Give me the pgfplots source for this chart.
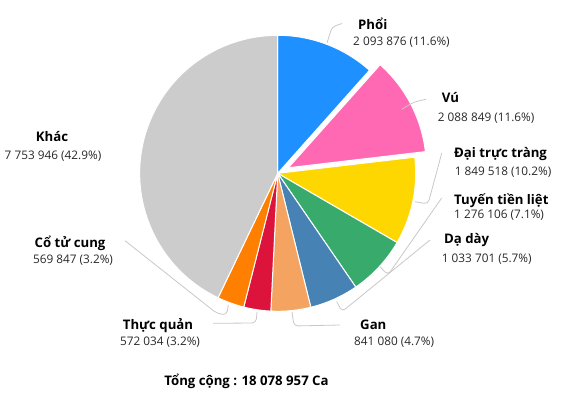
\documentclass[border=0pt]{standalone}
\usepackage{fontspec}
\setmainfont{Open Sans}
\usepackage{pgfplots}
\usepackage{pgfplotstable}
\pgfplotsset{compat=1.18}

\definecolor{slice0}{RGB}{30,144,255}
\definecolor{slice1}{RGB}{255,105,180}
\definecolor{slice2}{RGB}{255,215,0}
\definecolor{slice3}{RGB}{56,170,107}
\definecolor{slice4}{RGB}{70,130,180}
\definecolor{slice5}{RGB}{244,164,96}
\definecolor{slice6}{RGB}{220,20,60}
\definecolor{slice7}{RGB}{255,127,0}
\definecolor{slice8}{RGB}{204,204,204}
\definecolor{leader}{RGB}{200,200,200}
\definecolor{valtext}{RGB}{40,40,40}

\pgfplotstableread{
value
2093876
2088849
1849518
1276106
1033701
841080
572034
569847
7753946
}\piedata
\def\total{18078957}

\newcommand{\nm}[1]{{\fontsize{13.2}{15}\selectfont\bfseries #1}}
\newcommand{\vl}[1]{{\fontsize{11.8}{13}\selectfont\color{valtext}#1}}

\begin{document}
\begin{tikzpicture}
\begin{axis}[
  x=1pt, y=1pt,
  xmin=0, xmax=563, ymin=-393, ymax=0,
  hide axis, clip=false,
]
\path (axis cs:0,-393) rectangle (axis cs:563,0);
\pgfplotsextra{%
  \gdef\cum{0}%
  \foreach \i/\off in {0/0,1/12,2/0,3/0,4/0,5/0,6/0,7/0,8/0}{%
    \pgfplotstablegetelem{\i}{value}\of\piedata
    \edef\v{\pgfplotsretval}%
    \edef\a{\fpeval{90-360*\cum/\total}}%
    \xdef\cum{\fpeval{\cum+\v}}%
    \edef\b{\fpeval{90-360*\cum/\total}}%
    \edef\m{\fpeval{(\a+\b)/2}}%
    \edef\ox{\fpeval{277.7+\off*cosd(\m)}}%
    \edef\oy{\fpeval{-173.3+\off*sind(\m)}}%
    \edef\sx{\fpeval{\ox+138*cosd(\a)}}%
    \edef\sy{\fpeval{\oy+138*sind(\a)}}%
    \fill[fill=slice\i, draw=white, line width=1pt, line join=round]
      (axis cs:\ox,\oy) -- (axis cs:\sx,\sy)
      arc[start angle=\a, end angle=\b, radius=138pt] -- cycle;
  }%
}
% leader lines
\begin{scope}[draw=leader, line width=0.8pt, rounded corners=4pt]
\draw (axis cs:327,-43) -- (axis cs:332,-27) -- (axis cs:342,-23.5);
\draw (axis cs:401.7,-109.3) -- (axis cs:414,-102) -- (axis cs:426,-99.3);
\draw (axis cs:415,-201.7) -- (axis cs:428,-204) -- (axis cs:441.7,-153.3);
\draw (axis cs:380,-266.7) -- (axis cs:388,-275) -- (axis cs:441.7,-198);
\draw (axis cs:336.7,-301.5) -- (axis cs:342,-311.7) -- (axis cs:430,-240);
\draw (axis cs:292,-312) -- (axis cs:294,-326) -- (axis cs:340,-325);
\draw (axis cs:257,-312) -- (axis cs:256,-323) -- (axis cs:213,-323.3);
\draw (axis cs:228.3,-305) -- (axis cs:226.7,-315) -- (axis cs:216.7,-313.3) -- (axis cs:125,-240.7);
\end{scope}
% labels
\begin{scope}[every node/.style={inner sep=0pt}]
\node[anchor=base west] at (axis cs:358,-29.3) {\nm{Phổi}};
\node[anchor=base west] at (axis cs:353,-45.7) {\vl{2 093 876 (11.6\%)}};
\node[anchor=base west] at (axis cs:441.7,-102.7) {\nm{Vú}};
\node[anchor=base west] at (axis cs:437.7,-121.7) {\vl{2 088 849 (11.6\%)}};
\node[anchor=base west] at (axis cs:454,-157.3) {\nm{Đại trực tràng}};
\node[anchor=base west] at (axis cs:454.6,-175.7) {\vl{1 849 518 (10.2\%)}};
\node[anchor=base west] at (axis cs:454,-204.3) {\nm{Tuyến tiền liệt}};
\node[anchor=base west] at (axis cs:454,-219) {\vl{1 276 106 (7.1\%)}};
\node[anchor=base west] at (axis cs:444,-243.3) {\nm{Dạ dày}};
\node[anchor=base west] at (axis cs:441.7,-262.3) {\vl{1 033 701 (5.7\%)}};
\node[anchor=base west] at (axis cs:360,-330) {\nm{Gan}};
\node[anchor=base west] at (axis cs:354,-345.7) {\vl{841 080 (4.7\%)}};
\node[anchor=base] at (axis cs:158,-330) {\nm{Thực quản}};
\node[anchor=base] at (axis cs:160,-345.7) {\vl{572 034 (3.2\%)}};
\node[anchor=base] at (axis cs:52,-141.7) {\nm{Khác}};
\node[anchor=base] at (axis cs:53,-160) {\vl{7 753 946 (42.9\%)}};
\node[anchor=base] at (axis cs:70,-247.7) {\nm{Cổ tử cung}};
\node[anchor=base] at (axis cs:73,-263.3) {\vl{569 847 (3.2\%)}};
\node[anchor=base] at (axis cs:246.5,-385.7) {\nm{Tổng cộng : 18 078 957 Ca}};
\end{scope}
\end{axis}
\end{tikzpicture}
\end{document}
